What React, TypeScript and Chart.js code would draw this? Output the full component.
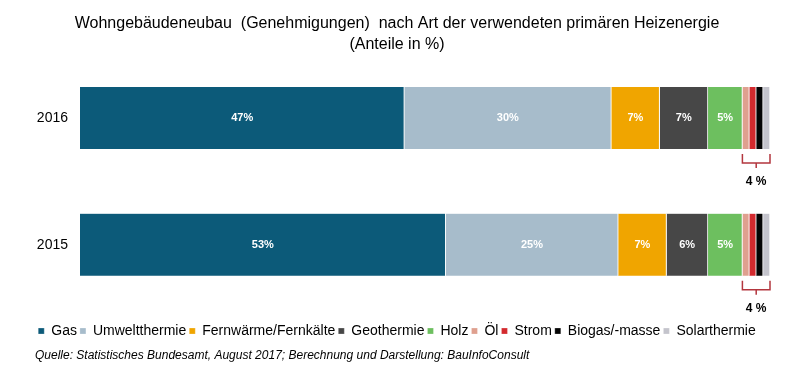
import React, { useEffect, useRef } from "react";
import { Chart, registerables } from "chart.js";

Chart.register(...registerables);

const years = ["2016", "2015"];
const seriesNames = [
  "Gas",
  "Umweltthermie",
  "Fernwärme/Fernkälte",
  "Geothermie",
  "Holz",
  "Öl",
  "Strom",
  "Biogas/-masse",
  "Solarthermie",
];
const gas = [47, 53];
const umwelt = [30, 25];
const fern = [7, 7];
const geo = [7, 6];
const holz = [5, 5];
const oel = [1, 1];
const strom = [1, 1];
const biogas = [1, 1];
const solar = [1, 1];
const seriesValues = [gas, umwelt, fern, geo, holz, oel, strom, biogas, solar];
const seriesColors = [
  "#0c5a79",
  "#a7bccb",
  "#f0a500",
  "#474747",
  "#6dbf5f",
  "#dfa08f",
  "#d32a2e",
  "#050505",
  "#c4c4cc",
];
const labeledSeries = 5; // first five series carry percentage labels
const titleLines = [
  "Wohngebäudeneubau  (Genehmigungen)  nach Art der verwendeten primären Heizenergie",
  "(Anteile in %)",
];
const sourceText =
  "Quelle: Statistisches Bundesamt, August 2017; Berechnung und Darstellung: BauInfoConsult";

const FONT = "'Liberation Sans', Arial, sans-serif";

const overlayPlugin = {
  id: "overlay",
  afterDatasetsDraw(chart: any) {
    const ctx = chart.ctx;
    ctx.save();
    ctx.font = `bold 11px ${FONT}`;
    ctx.fillStyle = "#ffffff";
    ctx.textAlign = "center";
    ctx.textBaseline = "middle";
    for (let d = 0; d < labeledSeries; d++) {
      const meta = chart.getDatasetMeta(d);
      meta.data.forEach((bar: any, i: number) => {
        const v = seriesValues[d][i];
        const cx = (bar.x + bar.base) / 2;
        ctx.fillText(`${Math.round(v)}%`, cx, bar.y);
      });
    }
    const firstSmall = chart.getDatasetMeta(labeledSeries);
    const lastSmall = chart.getDatasetMeta(seriesValues.length - 1);
    years.forEach((_, i) => {
      const b0 = firstSmall.data[i];
      const b1 = lastSmall.data[i];
      const x0 = Math.min(b0.base, b0.x);
      const x1 = Math.max(b1.base, b1.x);
      const top = b0.y + b0.height / 2 + 5;
      const mid = top + 9;
      const cx = (x0 + x1) / 2;
      ctx.strokeStyle = "#b3363e";
      ctx.lineWidth = 1.5;
      ctx.beginPath();
      ctx.moveTo(x0, top);
      ctx.lineTo(x0, mid);
      ctx.lineTo(x1, mid);
      ctx.lineTo(x1, top);
      ctx.moveTo(cx, mid);
      ctx.lineTo(cx, mid + 5);
      ctx.stroke();
      let sum = 0;
      for (let d = labeledSeries; d < seriesValues.length; d++) sum += seriesValues[d][i];
      ctx.fillStyle = "#000000";
      ctx.font = `bold 12px ${FONT}`;
      ctx.textAlign = "center";
      ctx.textBaseline = "middle";
      ctx.fillText(`${Math.round(sum)} %`, cx, mid + 19);
    });
    ctx.restore();
  },
  afterDraw(chart: any) {
    const ctx = chart.ctx;
    ctx.save();
    ctx.font = `italic 12px ${FONT}`;
    ctx.fillStyle = "#000000";
    ctx.textAlign = "left";
    ctx.textBaseline = "middle";
    ctx.fillText(sourceText, 35, 356);
    ctx.restore();
  },
};

export default function App() {
  const ref = useRef<HTMLCanvasElement | null>(null);
  useEffect(() => {
    if (!ref.current) return;
    const chart = new Chart(ref.current, {
      type: "bar",
      data: {
        labels: years,
        datasets: seriesNames.map((name, k) => ({
          label: name,
          data: seriesValues[k],
          backgroundColor: seriesColors[k],
          borderColor: "#ffffff",
          borderWidth: { left: 0, right: 1, top: 0, bottom: 0 },
          borderSkipped: false,
          barThickness: 62,
        })),
      },
      options: {
        indexAxis: "y",
        animation: false,
        responsive: false,
        maintainAspectRatio: false,
        layout: { padding: { left: 24, right: 40, top: 0, bottom: 24 } },
        scales: {
          x: {
            stacked: true,
            min: 0,
            max: 100,
            display: true,
            grid: { display: false, drawTicks: false },
            border: { display: false },
            ticks: { display: false },
            afterFit: (s: any) => {
              s.height = 13;
            },
          },
          y: {
            stacked: true,
            grid: { display: false, drawTicks: false },
            border: { display: false },
            ticks: { color: "#000", font: { family: FONT, size: 14 }, padding: 12 },
            afterFit: (s: any) => {
              s.width = 56;
            },
          },
        },
        plugins: {
          title: {
            display: true,
            text: titleLines,
            color: "#000",
            font: { family: FONT, size: 16, weight: "normal", lineHeight: 1.3 },
            padding: { top: 13, bottom: 0 },
          },
          legend: {
            display: true,
            position: "bottom",
            labels: {
              color: "#000",
              font: { family: FONT, size: 14 },
              boxWidth: 6,
              boxHeight: 6,
              padding: 3,
            },
          },
          tooltip: { enabled: false },
        },
      },
      plugins: [overlayPlugin],
    });
    return () => chart.destroy();
  }, []);
  return (
    <div style={{ position: "fixed", left: 0, top: 0, width: 810, height: 372, background: "#fff" }}>
      <canvas ref={ref} width={810} height={372} style={{ width: 810, height: 372 }} />
    </div>
  );
}
